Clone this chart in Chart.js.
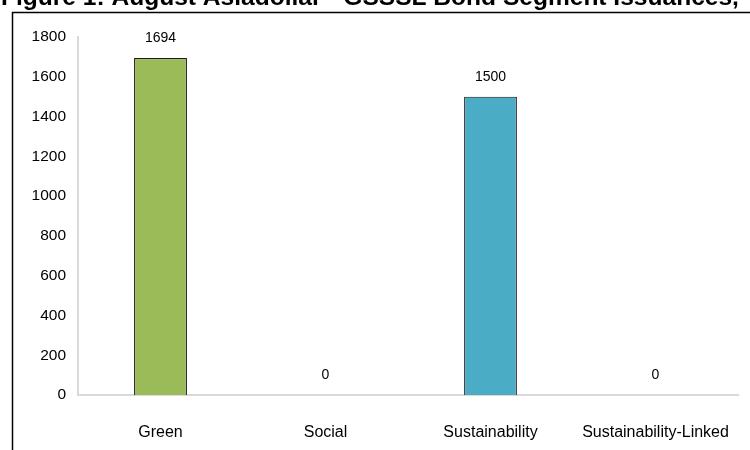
<!DOCTYPE html>
<html><head><meta charset="utf-8">
<script src="https://cdn.jsdelivr.net/npm/chart.js@4/dist/chart.umd.min.js"></script>
<style>html,body{margin:0;padding:0;background:#fff;}#wrap{width:750px;height:450px;position:relative;}</style>
</head><body><div id="wrap"><canvas id="c" width="750" height="450"></canvas></div>
<script>
const categories = ["Green", "Social", "Sustainability", "Sustainability-Linked"];
const values = [1694, 0, 1500, 0];
const barColors = ["#9BBB59", "#9BBB59", "#4BACC6", "#4BACC6"];
const yTicks = [0, 200, 400, 600, 800, 1000, 1200, 1400, 1600, 1800];
const titleText = "Figure 1: August Asiadollar - GSSSL Bond Segment Issuances,";

const FONT = "'Liberation Sans', Arial, sans-serif";

const framePlugin = {
  id: 'frame',
  beforeDraw(chart) {
    const ctx = chart.ctx;
    ctx.save();
    ctx.fillStyle = '#fff';
    ctx.fillRect(0, 0, chart.width, chart.height);
    let size = 22;
    ctx.font = 'bold ' + size + 'px ' + FONT;
    const w = ctx.measureText(titleText).width;
    size = size * 738 / w;
    ctx.font = 'bold ' + size + 'px ' + FONT;
    ctx.fillStyle = '#000';
    ctx.textBaseline = 'alphabetic';
    ctx.textAlign = 'left';
    ctx.fillText(titleText, 1, 5);
    ctx.strokeStyle = '#000';
    ctx.lineWidth = 1.5;
    ctx.beginPath();
    ctx.moveTo(12.5, 451);
    ctx.lineTo(12.5, 12.5);
    ctx.lineTo(751, 12.5);
    ctx.stroke();
    ctx.restore();
  }
};

const labelPlugin = {
  id: 'vlabels',
  afterDatasetsDraw(chart) {
    const ctx = chart.ctx;
    const meta = chart.getDatasetMeta(0);
    ctx.save();
    ctx.font = '14px ' + FONT;
    ctx.fillStyle = '#000';
    ctx.textAlign = 'center';
    ctx.textBaseline = 'middle';
    meta.data.forEach((bar, i) => {
      ctx.fillText(String(values[i]), bar.x, bar.y - 20);
    });
    ctx.restore();
  }
};

new Chart(document.getElementById('c'), {
  type: 'bar',
  data: {
    labels: categories,
    datasets: [{
      data: values,
      backgroundColor: barColors,
      borderColor: '#1a1a1a',
      borderWidth: 1.2,
      barPercentage: 0.32,
      categoryPercentage: 1.0
    }]
  },
  options: {
    responsive: false,
    animation: false,
    devicePixelRatio: 1,
    layout: { padding: { top: 37, right: 12, left: 0, bottom: 0 } },
    plugins: { legend: { display: false }, tooltip: { enabled: false }, title: { display: false } },
    scales: {
      x: {
        grid: { display: false, drawTicks: false },
        border: { display: true, color: '#d9d9d9', width: 2 },
        ticks: { font: { size: 16, family: FONT }, color: '#000', padding: 28, maxRotation: 0, autoSkip: false },
        afterFit(s) { s.height = 55; s.paddingLeft = 0; s.paddingRight = 0; }
      },
      y: {
        min: 0, max: 1800,
        afterBuildTicks(s) { s.ticks = yTicks.map(v => ({ value: v })); },
        grid: { display: false, drawTicks: false },
        border: { display: true, color: '#d9d9d9', width: 2 },
        ticks: { font: { size: 15.5, family: FONT }, color: '#000', padding: 12, callback: v => String(v) },
        afterFit(s) { s.width = 78; s.paddingTop = 0; s.paddingBottom = 0; }
      }
    }
  },
  plugins: [framePlugin, labelPlugin]
});
</script></body></html>
